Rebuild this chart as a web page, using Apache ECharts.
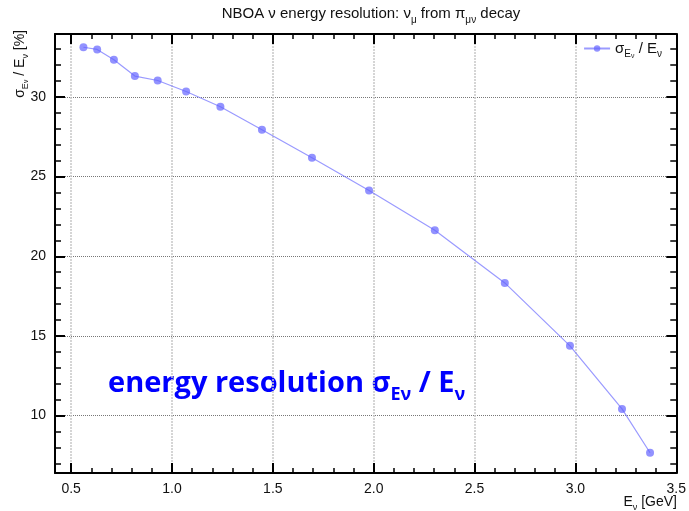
<!DOCTYPE html>
<html>
<head>
<meta charset="utf-8">
<script src="https://cdn.jsdelivr.net/npm/echarts@6/dist/echarts.min.js"></script>
<style>html,body{margin:0;padding:0;background:#fff}#c{width:689px;height:511px}</style>
</head>
<body>
<div id="c"></div>
<script>
var energies = [0.561, 0.629, 0.712, 0.816, 0.929, 1.070, 1.240, 1.446, 1.694, 1.977, 2.303, 2.650, 2.973, 3.231, 3.370];
var resolution = [33.12, 32.98, 32.34, 31.31, 31.03, 30.34, 29.38, 27.94, 26.19, 24.13, 21.63, 18.33, 14.38, 10.42, 7.67];
var xTickLabels = ['0.5', '1.0', '1.5', '2.0', '2.5', '3.0', '3.5'];
var yTickLabels = ['10', '15', '20', '25', '30'];

var FONT = '"Liberation Sans", Arial, Helvetica, sans-serif';
var pts = energies.map(function (x, i) { return [x, resolution[i]]; });
var xTickVals = xTickLabels.map(Number);
var yTickVals = yTickLabels.map(Number);

var chart = echarts.init(document.getElementById('c'), null, {renderer: 'canvas'});

var xMin = 0.42, xMax = 3.5, yMin = 6.4, yMax = 33.95;

function baseX(pos, labels) {
  return {
    type: 'value', position: pos, min: xMin, max: xMax,
    axisLine: {show: true, onZero: false, lineStyle: {color: '#000', width: 2}},
    axisTick: {show: true, inside: true, length: 10, customValues: xTickVals, lineStyle: {color: '#000', width: 2}},
    minorTick: {show: true, splitNumber: 5, length: 5, lineStyle: {color: '#000', width: 1.5}},
    axisLabel: {show: labels, margin: 9, fontSize: 14, color: '#111', fontFamily: FONT,
      customValues: xTickVals,
      formatter: function (v) { var i = xTickVals.indexOf(+(+v).toFixed(2)); return i >= 0 ? xTickLabels[i] : ''; }},
    splitLine: {show: labels, lineStyle: {color: '#c8c8c8', width: 1.5, type: [2, 1]}}
  };
}
function baseY(pos, labels) {
  return {
    type: 'value', position: pos, min: yMin, max: yMax,
    axisLine: {show: true, onZero: false, lineStyle: {color: '#000', width: 2}},
    axisTick: {show: true, inside: true, length: 10, customValues: yTickVals, lineStyle: {color: '#000', width: 2}},
    minorTick: {show: true, splitNumber: 5, length: 6, lineStyle: {color: '#000', width: 1.5}},
    axisLabel: {show: labels, margin: 9, fontSize: 14, color: '#111', fontFamily: FONT,
      customValues: yTickVals,
      formatter: function (v) { return String(Math.round(v)); }},
    splitLine: {show: labels, lineStyle: {color: '#777', width: 1, type: [1, 1]}}
  };
}

var option = {
  backgroundColor: '#fff',
  animation: false,
  title: {
    text: '{m|NBOA ν energy resolution: ν}{s|μ}{m| from π}{s|μν}{m| decay}',
    left: 366, top: -2, textAlign: 'center',
    textStyle: {rich: {
      m: {fontSize: 15, fontWeight: 'normal', fontFamily: FONT, color: '#111', lineHeight: 22, verticalAlign: 'middle'},
      s: {fontSize: 10, fontWeight: 'normal', fontFamily: FONT, color: '#111', lineHeight: 11, verticalAlign: 'bottom'}
    }}
  },
  legend: {
    data: ['res'], right: 22, top: 36, itemWidth: 26, itemHeight: 8, itemGap: 6,
    formatter: function () { return '{m|σ}{s|E}{t|ν}{m| / E}{s|ν}'; },
    textStyle: {rich: {
      m: {fontSize: 15, fontFamily: FONT, color: '#111', lineHeight: 22, verticalAlign: 'middle'},
      s: {fontSize: 10, fontFamily: FONT, color: '#111', lineHeight: 11, verticalAlign: 'bottom'},
      t: {fontSize: 7, fontFamily: FONT, color: '#111', lineHeight: 7, verticalAlign: 'bottom'}
    }}
  },
  grid: {left: 55, right: 12, top: 34, bottom: 38, containLabel: false},
  xAxis: [baseX('bottom', true), baseX('top', false)],
  yAxis: [baseY('left', true), baseY('right', false)],
  series: [{
    name: 'res', type: 'line', xAxisIndex: 0, yAxisIndex: 0, data: pts,
    symbol: 'circle', symbolSize: 8,
    lineStyle: {color: 'rgba(120,120,255,0.75)', width: 1.2},
    itemStyle: {color: 'rgba(100,100,255,0.7)'}
  }],
  graphic: [
    {
      type: 'text', x: 20, y: 30, rotation: Math.PI / 2,
      style: {
        text: '{m|σ}{s|E}{t|ν}{m| / E}{s|ν}{m| [%]}',
        align: 'right', verticalAlign: 'middle',
        rich: {
          m: {fontSize: 14, fontFamily: FONT, fill: '#111', lineHeight: 20, verticalAlign: 'middle'},
          s: {fontSize: 9, fontFamily: FONT, fill: '#111', lineHeight: 10, verticalAlign: 'bottom'},
          t: {fontSize: 7, fontFamily: FONT, fill: '#111', lineHeight: 7, verticalAlign: 'bottom'}
        }
      }
    },
    {
      type: 'text', x: 677, y: 502,
      style: {
        text: '{m|E}{s|ν}{m| [GeV]}',
        align: 'right', verticalAlign: 'middle',
        rich: {
          m: {fontSize: 14, fontFamily: FONT, fill: '#111', lineHeight: 20, verticalAlign: 'middle'},
          s: {fontSize: 9, fontFamily: FONT, fill: '#111', lineHeight: 10, verticalAlign: 'bottom'}
        }
      }
    },
    {
      type: 'text', x: 108, y: 384,
      style: {
        text: '{m|energy resolution σ}{s|Eν}{m| / E}{s|ν}',
        align: 'left', verticalAlign: 'middle',
        rich: {
          m: {fontSize: 29, fontFamily: '"Open Sans", "Noto Sans", sans-serif', fontWeight: 'bold', fill: '#0000ff', lineHeight: 40, verticalAlign: 'middle'},
          s: {fontSize: 18, fontFamily: '"Open Sans", "Noto Sans", sans-serif', fontWeight: 'bold', fill: '#0000ff', lineHeight: 20, verticalAlign: 'bottom'}
        }
      }
    }
  ]
};
chart.setOption(option);
</script>
</body>
</html>
